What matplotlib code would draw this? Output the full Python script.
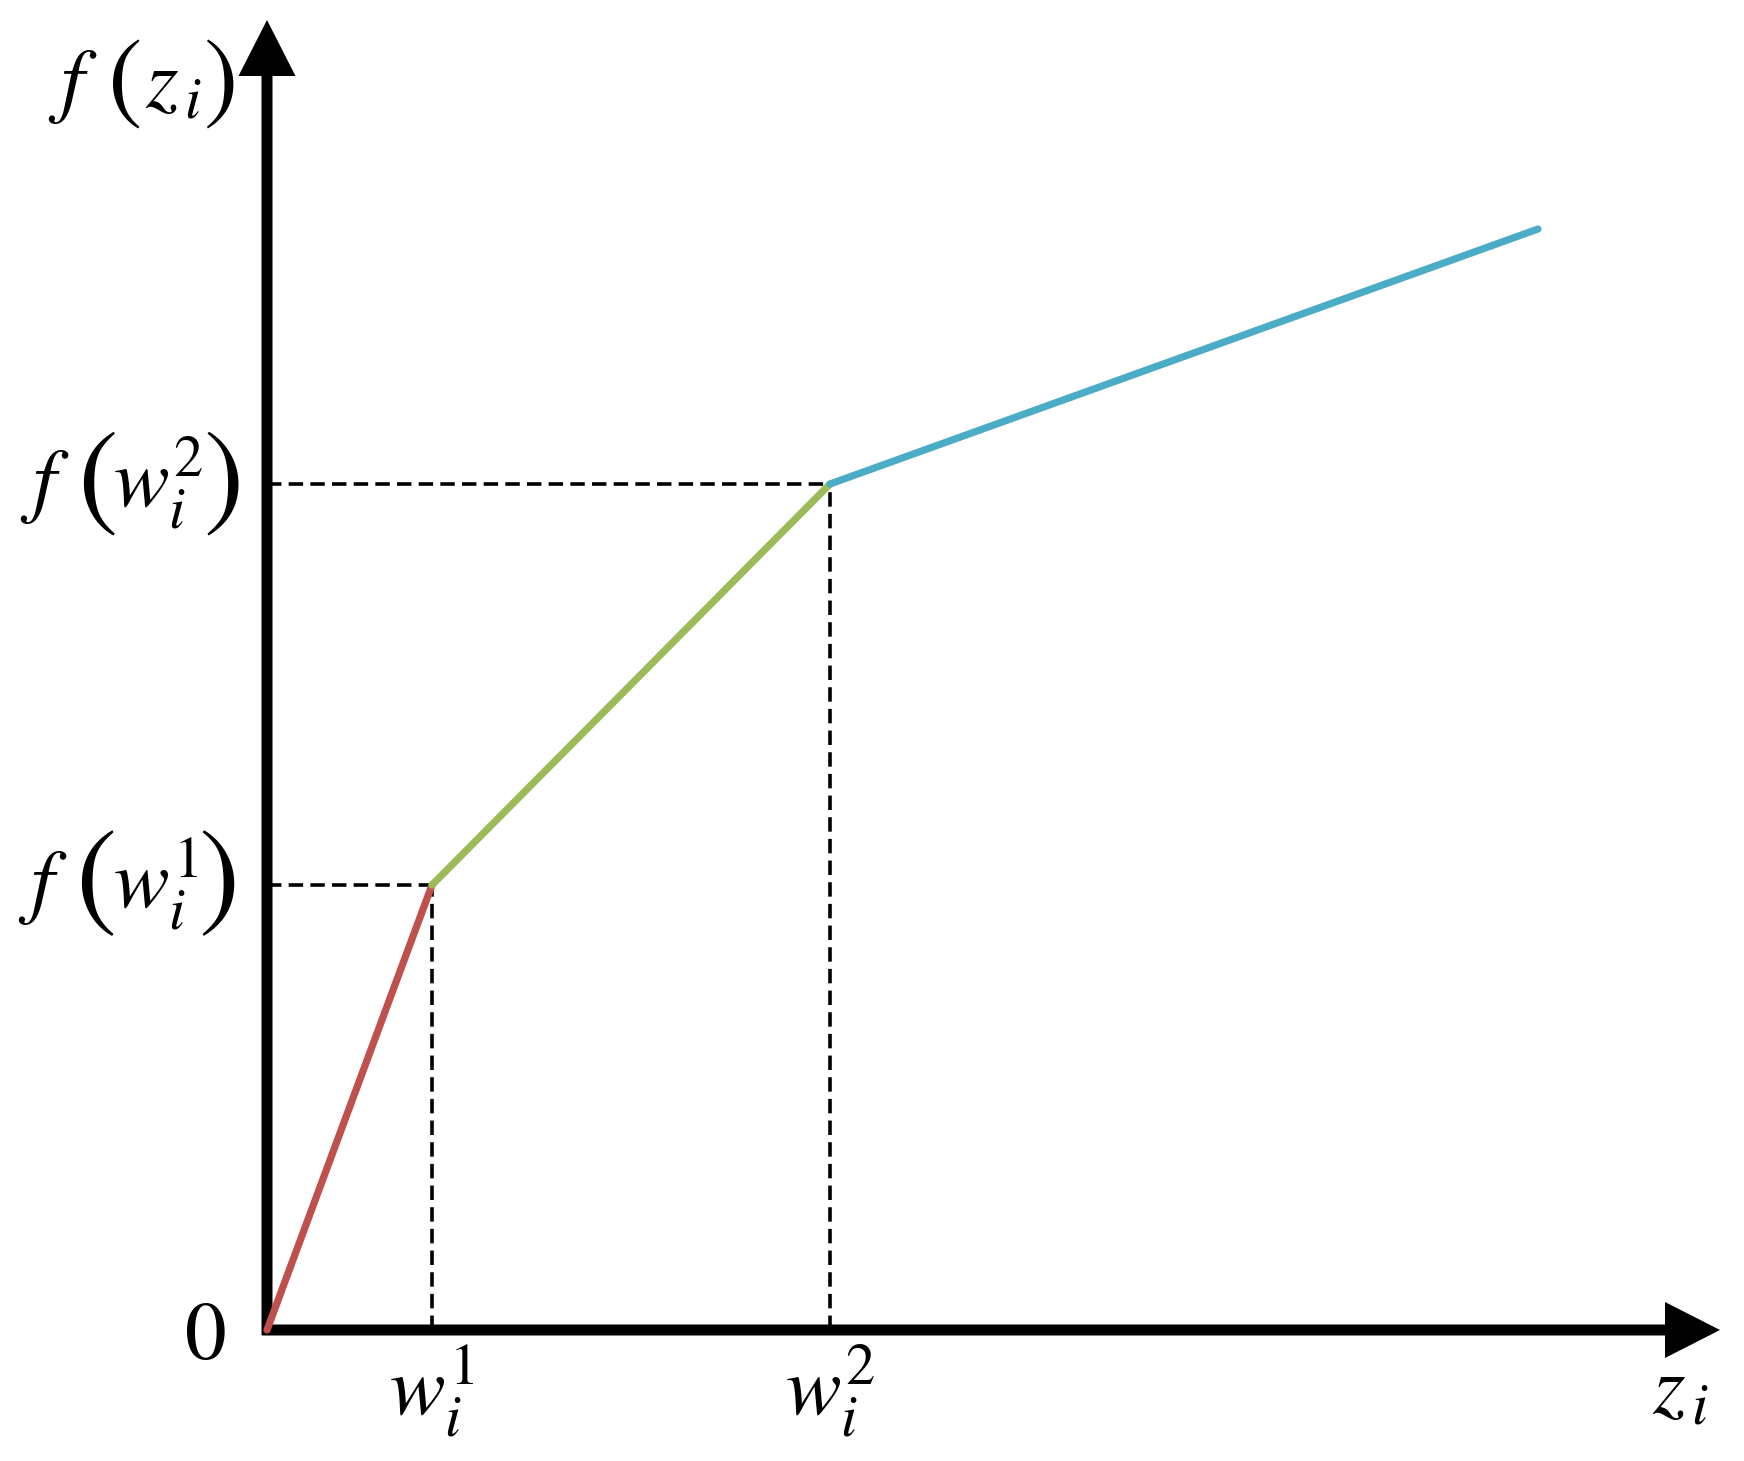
import matplotlib
matplotlib.use('Agg')
import matplotlib.pyplot as plt

## piecewise linear function f(z_i) with two break points w_i^1, w_i^2

z_pts = [0.0, 1.65, 5.63, 12.71]      # 0, w1, w2, end
f_pts = [0.0, 4.45, 8.46, 11.01]      # 0, f(w1), f(w2), end
seg_colors = ['#C0504D', '#9BBB59', '#4BACC6']

plt.rcParams['mathtext.fontset'] = 'stix'
plt.rcParams['font.family'] = 'STIXGeneral'

fig = plt.figure(figsize=(17.44, 14.61), dpi=100)
ax = fig.add_axes([0, 0, 1, 1])
ax.set_xlim(-2.67, 14.77)
ax.set_ylim(-1.31, 13.30)
ax.axis('off')
renderer = fig.canvas.get_renderer()

# axes with arrow heads
ax.arrow(-0.05, 0, 14.58, 0, width=0.11, head_width=0.56, head_length=0.55,
         length_includes_head=True, fc='k', ec='none', zorder=3)
ax.arrow(0, -0.05, 0, 13.15, width=0.11, head_width=0.57, head_length=0.56,
         length_includes_head=True, fc='k', ec='none', zorder=3)

# dashed guide lines
dash = (0, (4.0, 2.0))
for zi, fi in zip(z_pts[1:3], f_pts[1:3]):
    ax.plot([0, zi], [fi, fi], color='k', lw=2.6, linestyle=dash, zorder=2)
    ax.plot([zi, zi], [0, fi], color='k', lw=2.6, linestyle=dash, zorder=2)

# colored segments
for k in range(3):
    ax.plot(z_pts[k:k + 2], f_pts[k:k + 2], color=seg_colors[k], lw=5.2,
            solid_capstyle='round', zorder=4)


def paren(x, y, s, h_px):
    """big upright parenthesis, scaled to h_px pixels of ink"""
    t = ax.text(x, y, s, fontsize=60, ha='center', va='center')
    h = t.get_window_extent(renderer).height
    t.set_fontsize(60 * h_px / h)
    return t


fs = 60
# f(z_i)
ax.text(-2.19, 12.23, r'$f$', fontsize=fs, ha='left', va='baseline')
paren(-1.43, 12.44, r'$($', 92)
ax.text(-1.22, 12.23, r'$z_{\,i}$', fontsize=fs, ha='left', va='baseline')
paren(-0.48, 12.44, r'$)$', 92)

# f(w_i^2)
ax.text(-2.47, 8.23, r'$f$', fontsize=fs, ha='left', va='baseline')
paren(-1.71, 8.44, r'$($', 108)
ax.text(-1.54, 8.23, r'$w_i^2$', fontsize=fs, ha='left', va='baseline')
paren(-0.46, 8.44, r'$)$', 108)

# f(w_i^1)
ax.text(-2.49, 4.22, r'$f$', fontsize=fs, ha='left', va='baseline')
paren(-1.72, 4.45, r'$($', 110)
ax.text(-1.54, 4.22, r'$w_i^1$', fontsize=fs, ha='left', va='baseline')
paren(-0.50, 4.45, r'$)$', 110)

ax.text(-0.62, -0.10, r'$0$', fontsize=fs, ha='center', va='center')
ax.text(z_pts[1], -0.62, r'$w_i^1$', fontsize=fs, ha='center', va='center')
ax.text(z_pts[2], -0.62, r'$w_i^2$', fontsize=fs, ha='center', va='center')
ax.text(13.85, -0.83, r'$z_{\,i}$', fontsize=fs, ha='left', va='baseline')

fig.savefig('out.png', dpi=100)
